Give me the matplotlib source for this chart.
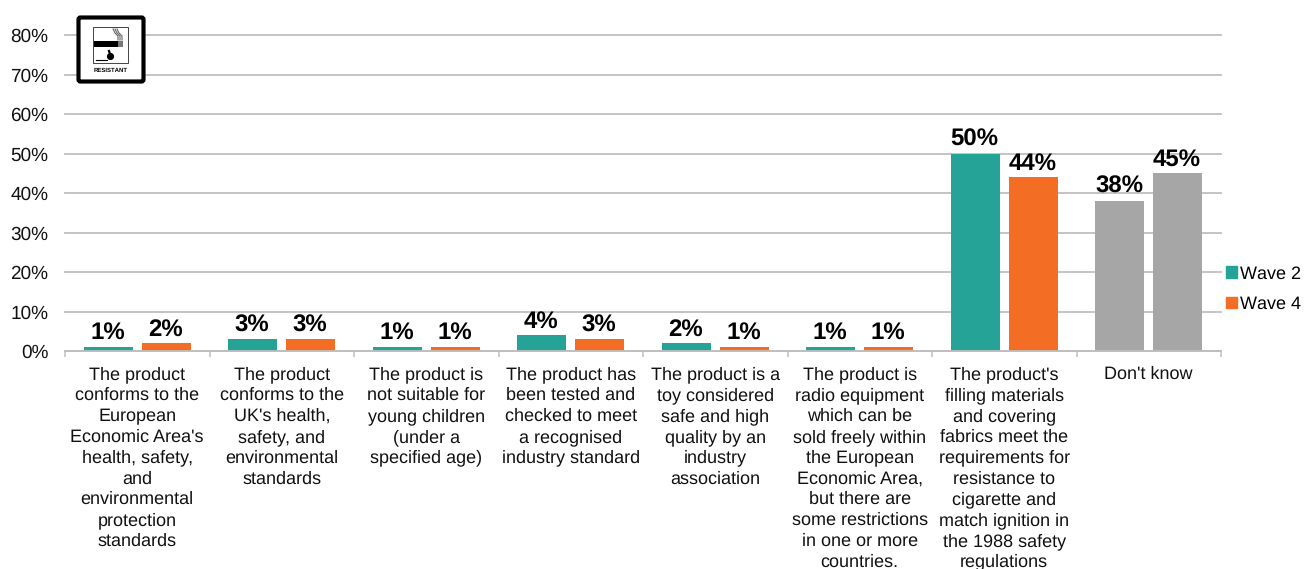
#!/usr/bin/python

import numpy as np
import matplotlib
matplotlib.use('Agg')
import matplotlib.pyplot as plt
from matplotlib.patches import Rectangle, FancyBboxPatch, Patch

plt.rcParams['font.family'] = ['Liberation Sans', 'DejaVu Sans']
plt.rcParams['text.hinting'] = 'no_hinting'
plt.rcParams['text.hinting_factor'] = 1

categories = [
    "The product\nconforms to the\nEuropean\nEconomic Area's\nhealth, safety,\nand\nenvironmental\nprotection\nstandards",
    "The product\nconforms to the\nUK's health,\nsafety, and\nenvironmental\nstandards",
    "The product is\nnot suitable for\nyoung children\n(under a\nspecified age)",
    "The product has\nbeen tested and\nchecked to meet\na recognised\nindustry standard",
    "The product is a\ntoy considered\nsafe and high\nquality by an\nindustry\nassociation",
    "The product is\nradio equipment\nwhich can be\nsold freely within\nthe European\nEconomic Area,\nbut there are\nsome restrictions\nin one or more\ncountries.",
    "The product's\nfilling materials\nand covering\nfabrics meet the\nrequirements for\nresistance to\ncigarette and\nmatch ignition in\nthe 1988 safety\nregulations",
    "Don't know",
]
wave2 = [1, 3, 1, 4, 2, 1, 50, 38]
wave4 = [2, 3, 1, 3, 1, 1, 44, 45]
yticks = [0, 10, 20, 30, 40, 50, 60, 70, 80]

TEAL = '#26A397'
ORANGE = '#F46D25'
GREY = '#A6A6A6'
GRID = '#BFBFBF'
TEXT = '#111111'

W, H = 1305, 569
fig = plt.figure(figsize=(W / 100, H / 100), dpi=100)
ax = fig.add_axes([65 / W, 1 - 351 / H, (1221 - 65) / W, (351 - 35) / H])

x = np.arange(len(categories))
width = 0.34
offset = 0.2

colors2 = [TEAL] * 7 + [GREY]
colors4 = [ORANGE] * 7 + [GREY]
bars2 = ax.bar(x - offset, wave2, width, color=colors2, zorder=2)
bars4 = ax.bar(x + offset, wave4, width, color=colors4, zorder=2)

# Value labels sit above each bar
for bars, vals in ((bars2, wave2), (bars4, wave4)):
    for bar, val in zip(bars, vals):
        ax.annotate('%d%%' % val, (bar.get_x() + bar.get_width() / 2, val),
                    xytext=(-0.5, 2), textcoords='offset points', ha='center',
                    va='bottom', fontsize=17.5, fontweight='bold', color='black', zorder=3)

ax.set_xlim(-0.5, len(categories) - 0.5)
ax.set_ylim(0, 80)

ax.set_yticks(yticks)
ax.set_yticklabels(['%d%%' % v for v in yticks], fontsize=13.6, color=TEXT)
ax.tick_params(axis='y', length=0, pad=12)
ax.grid(axis='y', color=GRID, linewidth=1.3, zorder=0, clip_on=False)
ax.set_axisbelow(True)

# Boundary ticks are major, the category text hangs off unseen minor ticks
ax.set_xticks(np.arange(len(categories) + 1) - 0.5)
ax.set_xticklabels([])
ax.set_xticks(x, minor=True)
ax.set_xticklabels(categories, minor=True, fontsize=13.2, color=TEXT, linespacing=1.31, va='top')
ax.tick_params(axis='x', which='major', length=4, width=1.1, color=GRID)
ax.tick_params(axis='x', which='minor', length=0, pad=11)

for side in ('top', 'left', 'right'):
    ax.spines[side].set_visible(False)
ax.spines['bottom'].set_color(GRID)
ax.spines['bottom'].set_linewidth(1.3)

handles = [Patch(color=TEAL, label='Wave 2'), Patch(color=ORANGE, label='Wave 4')]
fig.legend(handles=handles, loc='center left', bbox_to_anchor=(1226 / W, 1 - 289 / H),
           frameon=False, fontsize=13.2, handlelength=0.58, handleheight=0.58,
           handletextpad=0.2, labelspacing=0.75, borderpad=0, borderaxespad=0)

# Cigarette resistant symbol in the top left corner, drawn in pixel coordinates
icon = fig.add_axes([76 / W, 1 - 84 / H, 70 / W, 69 / H], zorder=5)
icon.set_xlim(76, 146)
icon.set_ylim(84, 15)
icon.axis('off')
icon.add_patch(FancyBboxPatch((78.5, 17.5), 65, 64, boxstyle='round,pad=0,rounding_size=2',
                              fc='white', ec='black', lw=3))
icon.add_patch(Rectangle((93, 27), 35, 36, fc='white', ec='#444444', lw=0.7))
icon.add_patch(Rectangle((94, 41), 24, 6, fc='black', ec='none'))
icon.add_patch(Rectangle((118, 41), 5, 6, fc='#777777', ec='none'))
for dx in (0, 2, 4):
    icon.plot([113 + dx, 115 + dx, 118 + dx, 118 + dx], [29, 33, 36, 40], color='#666666', lw=0.8)
icon.plot([96, 107], [59.5, 59.5], color='black', lw=0.8)
icon.add_patch(plt.Circle((110.5, 56.5), 3.6, fc='black', ec='none'))
icon.plot([110, 109], [54, 51], color='black', lw=1.6)
icon.text(110.5, 70, 'RESISTANT', ha='center', va='center', fontsize=4.4, fontweight='bold', color='black')

fig.savefig('out.png', dpi=100)
